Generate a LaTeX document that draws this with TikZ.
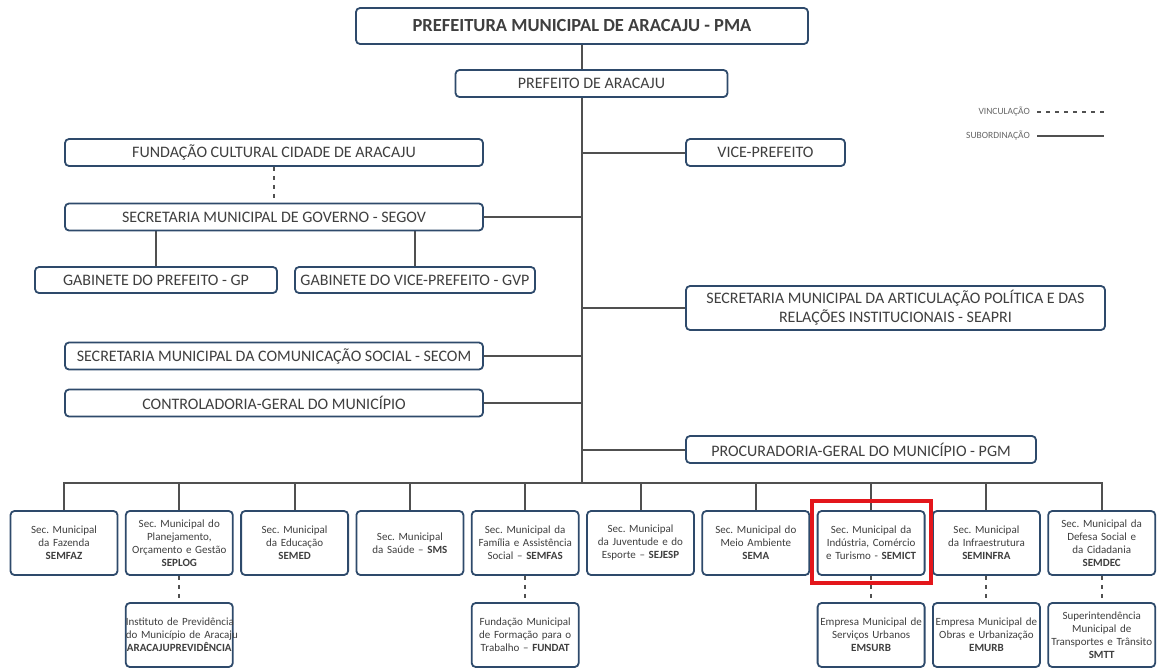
\documentclass[tikz,border=0pt]{standalone}
\usepackage{fontspec}
\setmainfont{Carlito}
\usetikzlibrary{backgrounds}
\definecolor{boxblue}{HTML}{2E4A6B}
\definecolor{txtgray}{HTML}{3F3F3F}
\definecolor{linegray}{HTML}{505050}
\definecolor{markred}{HTML}{E3161B}
\tikzset{
  orgbox/.style={draw=boxblue, line width=1.8pt, rounded corners=4pt, fill=white, text=txtgray, inner sep=0pt, align=center},
  topbox/.style={orgbox, font=\fontsize{16}{19}\selectfont},
  secbox/.style={orgbox, minimum width=107pt, minimum height=64pt, text width=107pt, font=\fontsize{11}{13}\selectfont},
  sub/.style={draw=linegray, line width=2pt},
  link/.style={draw=linegray, line width=2pt, dash pattern=on 4pt off 5pt},
  legtext/.style={text=txtgray!80, inner sep=0pt, font=\fontsize{9.5}{10}\selectfont}
}
\begin{document}
\frenchspacing
\begin{tikzpicture}[x=1pt, y=-1pt]
\useasboundingbox (0,0) rectangle (1160,669);
% upper part
\node[topbox, minimum width=452, minimum height=36, font=\bfseries\fontsize{18.5}{21}\selectfont] (pma) at (582,26) {PREFEITURA MUNICIPAL DE ARACAJU - PMA};
\node[topbox, minimum width=272, minimum height=27] (prefeito) at (591.5,83.5) {PREFEITO DE ARACAJU};
\coordinate (trunk) at (582,483);
\node[topbox, minimum width=418, minimum height=27] (fcca) at (274,152.5) {FUNDAÇÃO CULTURAL CIDADE DE ARACAJU};
\node[topbox, minimum width=159, minimum height=27] (vice) at (765.5,152.5) {VICE-PREFEITO};
\node[topbox, minimum width=418, minimum height=27] (segov) at (274,217) {SECRETARIA MUNICIPAL DE GOVERNO - SEGOV};
\node[topbox, minimum width=242, minimum height=26] (gp) at (156,280) {GABINETE DO PREFEITO - GP};
\node[topbox, minimum width=240, minimum height=26] (gvp) at (415,280) {GABINETE DO VICE-PREFEITO - GVP};
\node[topbox, minimum width=419, minimum height=44] (seapri) at (895.5,308) {SECRETARIA MUNICIPAL DA ARTICULAÇÃO POLÍTICA E DAS\\RELAÇÕES INSTITUCIONAIS - SEAPRI};
\node[topbox, minimum width=418, minimum height=27] (secom) at (274,356) {SECRETARIA MUNICIPAL DA COMUNICAÇÃO SOCIAL - SECOM};
\node[topbox, minimum width=418, minimum height=27] (cgm) at (274,403) {CONTROLADORIA-GERAL DO MUNICÍPIO};
\node[topbox, minimum width=350, minimum height=27] (pgm) at (861,449.5) {PROCURADORIA-GERAL DO MUNICÍPIO - PGM};
% legend
\node[legtext, anchor=east] (vinc) at (1030,112) {VINCULAÇÃO};
\node[legtext, anchor=east] (subo) at (1030,136) {SUBORDINAÇÃO};
\coordinate (vincend) at (1104,112);
\coordinate (suboend) at (1104,136);
\draw[link, line width=1.6pt] ([xshift=7]vinc.east) -- (vincend);
\draw[sub] ([xshift=7]subo.east) -- (suboend);
% secretarias
\node[secbox] (semfaz) at (64,543) {Sec. Municipal\\da Fazenda\\\textbf{SEMFAZ}};
\node[secbox] (seplog) at (179.3,543) {Sec. Municipal do\\Planejamento,\\Orçamento e Gestão\\\textbf{SEPLOG}};
\node[secbox] (semed) at (294.6,543) {Sec. Municipal\\da Educação\\\textbf{SEMED}};
\node[secbox] (sms) at (409.9,543) {Sec. Municipal\\da Saúde – \textbf{SMS}};
\node[secbox] (semfas) at (525.2,543) {Sec. Municipal da\\Família e Assistência\\Social – \textbf{SEMFAS}};
\node[secbox] (sejesp) at (640.5,543) {Sec. Municipal\\da Juventude e do\\Esporte – \textbf{SEJESP}};
\node[secbox] (sema) at (755.8,543) {Sec. Municipal do\\Meio Ambiente\\\textbf{SEMA}};
\node[secbox] (semict) at (871.1,543) {Sec. Municipal da\\Indústria, Comércio\\e Turismo - \textbf{SEMICT}};
\node[secbox] (seminfra) at (986.4,543) {Sec. Municipal\\da Infraestrutura\\\textbf{SEMINFRA}};
\node[secbox] (semdec) at (1101.7,543) {Sec. Municipal da\\Defesa Social e\\da Cidadania\\\textbf{SEMDEC}};
% vinculadas
\node[secbox] (ipam) at (179.3,635) {\mbox{Instituto de Previdência}\\\mbox{do Município de Aracaju}\\\mbox{\textbf{ARACAJUPREVIDÊNCIA}}};
\node[secbox] (fundat) at (525.2,635) {Fundação Municipal\\de Formação para o\\Trabalho – \textbf{FUNDAT}};
\node[secbox] (emsurb) at (871.1,635) {\mbox{Empresa Municipal de}\\Serviços Urbanos\\\textbf{EMSURB}};
\node[secbox] (emurb) at (986.4,635) {\mbox{Empresa Municipal de}\\\mbox{Obras e Urbanização}\\\textbf{EMURB}};
\node[secbox] (smtt) at (1101.7,635) {Superintendência\\Municipal de\\\mbox{Transportes e Trânsito}\\\textbf{SMTT}};
% highlight
\draw[markred, line width=4pt] ([shift={(-5,-9)}]semict.north west) rectangle ([shift={(5,7)}]semict.south east);
\begin{scope}[on background layer]
\draw[sub] (pma.south) -- (trunk);
\draw[sub] (vice.west) -- (vice.west -| trunk);
\draw[sub] (segov.east) -- (segov.east -| trunk);
\draw[sub] (seapri.west) -- (seapri.west -| trunk);
\draw[sub] (secom.east) -- (secom.east -| trunk);
\draw[sub] (cgm.east) -- (cgm.east -| trunk);
\draw[sub] (pgm.west) -- (pgm.west -| trunk);
\draw[link] (fcca) -- (segov);
\draw[sub] (gp.north) -- (gp.north |- segov.south);
\draw[sub] (gvp.north) -- (gvp.north |- segov.south);
\draw[sub] (semfaz.north) |- (trunk);
\draw[sub] (seplog.north) |- (trunk);
\draw[sub] (semed.north) |- (trunk);
\draw[sub] (sms.north) |- (trunk);
\draw[sub] (semfas.north) |- (trunk);
\draw[sub] (sejesp.north) |- (trunk);
\draw[sub] (sema.north) |- (trunk);
\draw[sub] (semict.north) |- (trunk);
\draw[sub] (seminfra.north) |- (trunk);
\draw[sub] (semdec.north) |- (trunk);
\draw[link] (seplog) -- (ipam);
\draw[link] (semfas) -- (fundat);
\draw[link] (semict) -- (emsurb);
\draw[link] (seminfra) -- (emurb);
\draw[link] (semdec) -- (smtt);
\end{scope}
\end{tikzpicture}
\end{document}
